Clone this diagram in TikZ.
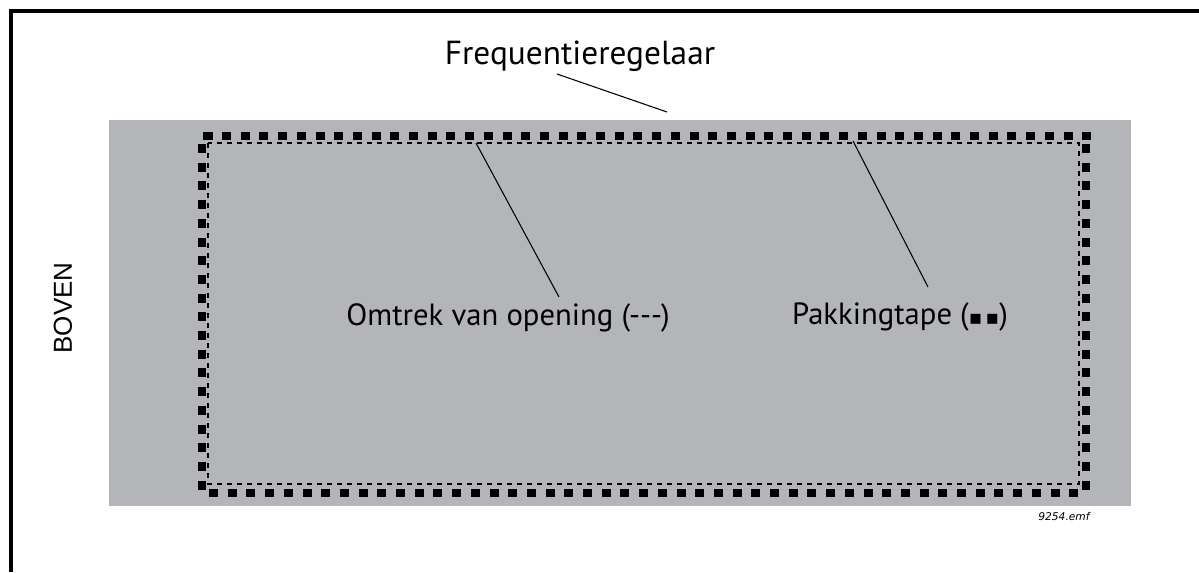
\documentclass[tikz,border=0pt]{standalone}
\usepackage{fontspec}
\setmainfont{PT Sans}
\newfontfamily\arialfont{Liberation Sans}
\newfontfamily\dejavufont{DejaVu Sans}
\definecolor{panelgray}{RGB}{180,181,185}
\tikzset{
  label/.style={font=\fontsize{23pt}{26pt}\selectfont, anchor=base, inner sep=0pt},
  biglabel/.style={font=\fontsize{25pt}{28pt}\selectfont, anchor=base, inner sep=0pt},
  leader/.style={line width=0.8pt, black},
  tape/.style={line width=6.4pt, black, dash pattern=on 6.75pt off 7.275pt},
  opening/.style={line width=0.95pt, black, dash pattern=on 4pt off 3.5pt},
}
\begin{document}
\begin{tikzpicture}[x=0.75pt,y=-0.75pt]
\useasboundingbox (0,0) rectangle (1199,572);
% frame
\draw[line width=2.4pt] (11,572) -- (11,11) -- (1199,11);
% panel
\fill[panelgray] (109,120) rectangle (1131,506);
% opening outline
\draw[opening] (208,143) rectangle (1079,484);
% gasket tape squares
\fill (203,132) rectangle (213,140);
\draw[tape] (222,136) -- (1091,136);
\draw[tape] (202,144) -- (202,492);
\draw[tape] (209,493) -- (1081,493);
\draw[tape] (1086,144) -- (1086,491);
% labels
\node[biglabel] (freq) at (580,64) {Frequentieregelaar};
\node[label] (omtrek) at (508,325) {Omtrek van opening (-{}-{}-)};
\node[label] (pakking) at (900,324) {Pakkingtape ({\dejavufont\fontsize{15pt}{16pt}\selectfont ▪\,▪})};
\node[font=\arialfont\fontsize{19.5pt}{22pt}\selectfont, rotate=90, inner sep=0pt] (boven) at (63,308) {BOVEN};
\node[font=\dejavufont\itshape\fontsize{8pt}{10pt}\selectfont, inner sep=0pt] (fig) at (1064,517) {9254.emf};
% leader end points
\coordinate (freqA) at (557,74);
\coordinate (freqB) at (667,112);
\coordinate (omtrekA) at (476,143);
\coordinate (omtrekB) at (559,297);
\coordinate (pakA) at (853,141);
\coordinate (pakB) at (928,287);
\draw[leader] (freqA) -- (freqB);
\draw[leader] (omtrekA) -- (omtrekB);
\draw[leader] (pakA) -- (pakB);
\end{tikzpicture}
\end{document}
